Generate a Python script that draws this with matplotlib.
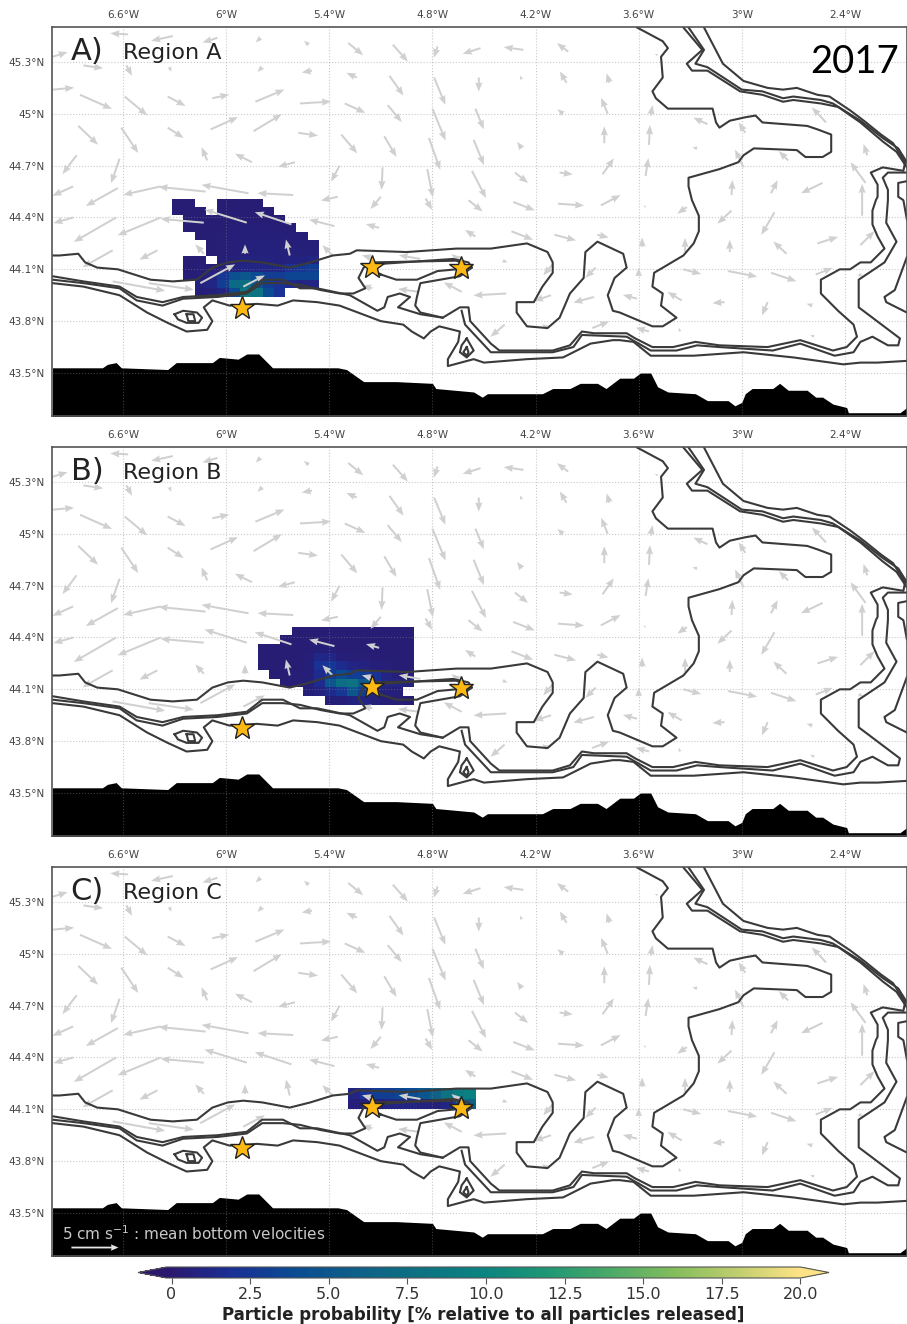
import numpy as np
import matplotlib
matplotlib.use('Agg')
import matplotlib.pyplot as plt
from matplotlib.colors import LinearSegmentedColormap

# Depth contours as (lon, lat)
line1 = [(-7.01,44.18),(-6.97,44.18),(-6.86,44.19),(-6.82,44.14),(-6.75,44.11),(-6.63,44.10),(-6.44,44.04),(-6.31,44.03),(-6.17,44.04),(-6.08,44.11),(-5.99,44.14),(-5.90,44.15),(-5.79,44.14),(-5.63,44.11),(-5.51,44.14),(-5.38,44.18),(-5.28,44.19),(-5.24,44.21),(-4.95,44.20),(-4.66,44.22),(-4.46,44.22),(-4.25,44.25),(-4.13,44.20),(-4.10,44.14),(-4.10,44.08),(-4.16,44.00),(-4.21,43.91),(-4.31,43.91),(-4.31,43.85),(-4.25,43.77),(-4.13,43.76),(-4.06,43.82),(-4.00,43.96),(-3.92,44.05),(-3.91,44.20),(-3.84,44.26),(-3.69,44.19),(-3.67,44.11),(-3.74,44.05),(-3.78,43.95),(-3.75,43.86),(-3.71,43.85),(-3.52,43.77),(-3.46,43.77),(-3.38,43.82),(-3.47,43.89),(-3.46,43.96),(-3.52,44.00),(-3.51,44.08),(-3.34,44.18),(-3.28,44.25),(-3.25,44.32),(-3.25,44.41),(-3.29,44.50),(-3.31,44.58),(-3.31,44.63),(-3.13,44.68),(-3.02,44.72),(-2.99,44.76),(-2.93,44.80),(-2.68,44.79),(-2.63,44.75),(-2.53,44.75),(-2.48,44.78),(-2.48,44.88),(-2.56,44.91),(-2.62,44.93),(-2.88,44.95),(-2.92,44.99),(-2.98,44.98),(-3.07,44.96),(-3.13,44.92),(-3.15,44.95),(-3.17,45.03),(-3.27,45.03),(-3.43,45.03),(-3.50,45.09),(-3.52,45.13),(-3.46,45.21),(-3.47,45.33),(-3.43,45.38),(-3.46,45.42),(-3.61,45.50)]
line2 = [(-7.01,44.06),(-6.83,44.03),(-6.62,44.00),(-6.52,43.94),(-6.37,43.91),(-6.25,43.94),(-6.05,43.95),(-5.88,43.97),(-5.79,44.04),(-5.67,44.04),(-5.57,43.99),(-5.47,43.99),(-5.28,43.95),(-5.12,43.86),(-5.08,43.88),(-5.06,43.94),(-4.99,43.96),(-4.93,43.94),(-5.00,43.88),(-4.87,43.84),(-4.74,43.82),(-4.64,43.88),(-4.59,43.88),(-4.58,43.80),(-4.46,43.67),(-4.41,43.63),(-4.10,43.63),(-4.00,43.66),(-3.93,43.74),(-3.86,43.73),(-3.67,43.73),(-3.62,43.70),(-3.52,43.65),(-3.40,43.65),(-3.27,43.68),(-3.13,43.66),(-2.85,43.65),(-2.66,43.69),(-2.47,43.63),(-2.39,43.65),(-2.33,43.71),(-2.35,43.78),(-2.44,43.86),(-2.54,43.96),(-2.54,44.04),(-2.43,44.10),(-2.37,44.10),(-2.31,44.14),(-2.25,44.14),(-2.17,44.22),(-2.21,44.29),(-2.24,44.36),(-2.24,44.44),(-2.22,44.50),(-2.21,44.52),(-2.21,44.59),(-2.25,44.66),(-2.18,44.69),(-2.06,44.67),(-2.05,44.72),(-2.12,44.83),(-2.19,44.88),(-2.29,44.96),(-2.37,45.02),(-2.49,45.10),(-2.56,45.11),(-2.68,45.15),(-2.76,45.14),(-2.85,45.15),(-2.99,45.19),(-3.11,45.29),(-3.22,45.50)]
line3 = [(-7.01,44.02),(-6.83,44.00),(-6.62,43.95),(-6.46,43.85),(-6.34,43.79),(-6.23,43.74),(-6.11,43.75),(-6.08,43.80),(-6.13,43.88),(-6.08,43.92),(-5.98,43.89),(-5.82,43.90),(-5.70,43.89),(-5.61,43.92),(-5.47,43.91),(-5.34,43.89),(-5.10,43.80),(-4.97,43.78),(-4.92,43.74),(-4.85,43.70),(-4.81,43.74),(-4.76,43.77),(-4.64,43.74),(-4.65,43.68),(-4.71,43.58),(-4.71,43.54),(-4.56,43.58),(-4.50,43.56),(-4.25,43.58),(-4.04,43.59),(-3.88,43.67),(-3.75,43.69),(-3.71,43.69),(-3.63,43.68),(-3.53,43.60),(-3.28,43.60),(-2.99,43.62),(-2.70,43.59),(-2.41,43.55),(-2.31,43.56),(-2.21,43.56),(-2.04,43.57)]
line4 = [(-7.01,44.04),(-6.83,44.02),(-6.62,43.99),(-6.52,43.92),(-6.37,43.89),(-6.25,43.93),(-6.05,43.94),(-5.88,43.96),(-5.79,44.02),(-5.67,44.02),(-5.57,44.01),(-5.45,43.98),(-5.34,43.96),(-5.26,43.96),(-5.19,43.99),(-5.23,44.05),(-5.20,44.11),(-5.15,44.14),(-4.66,44.15),(-4.57,44.11),(-4.64,44.06),(-4.87,44.02),(-4.89,43.94),(-4.90,43.89),(-4.87,43.85),(-4.74,43.82)]
line5 = [(-5.10,44.07),(-5.01,44.04),(-4.89,44.04),(-4.77,44.09),(-4.66,44.10),(-4.57,44.11),(-4.59,44.14),(-4.68,44.16),(-5.12,44.13),(-5.15,44.10),(-5.10,44.07)]
line6 = [(-4.63,43.86),(-4.61,43.78),(-4.46,43.62),(-4.10,43.62),(-3.98,43.65),(-3.93,43.72),(-3.67,43.71),(-3.53,43.63),(-3.38,43.63),(-3.26,43.66),(-3.13,43.65),(-2.82,43.63),(-2.66,43.67),(-2.46,43.60),(-2.35,43.62),(-2.31,43.68),(-2.24,43.71),(-2.15,43.66),(-2.09,43.66),(-2.08,43.70),(-2.32,43.88),(-2.32,44.04),(-2.17,44.14),(-2.10,44.26),(-2.16,44.37),(-2.15,44.50),(-2.15,44.56),(-2.18,44.63),(-2.15,44.66),(-2.04,44.66)]
line7 = [(-2.04,44.17),(-2.11,43.98),(-2.17,43.94),(-2.16,43.91),(-2.04,43.85)]
line8 = [(-2.04,44.61),(-2.09,44.60),(-2.09,44.52),(-2.06,44.50),(-2.04,44.39)]
line9 = [(-3.34,45.50),(-3.23,45.37),(-3.32,45.29),(-3.29,45.25),(-3.20,45.25),(-3.01,45.13),(-2.88,45.11),(-2.76,45.07),(-2.70,45.08),(-2.54,45.06),(-2.44,45.04),(-2.31,44.95),(-2.18,44.84),(-2.10,44.78),(-2.04,44.69)]
line10 = [(-3.31,45.50),(-3.22,45.37),(-3.27,45.29),(-3.20,45.27),(-3.00,45.14),(-2.88,45.13),(-2.76,45.09),(-2.70,45.10),(-2.54,45.08),(-2.47,45.06),(-2.31,44.96),(-2.18,44.86),(-2.09,44.80),(-2.04,44.72)]
mount1 = [(-6.30,43.84),(-6.25,43.86),(-6.17,43.85),(-6.14,43.82),(-6.16,43.79),(-6.23,43.79),(-6.28,43.81),(-6.30,43.84)]
mount1b = [(-6.23,43.84),(-6.19,43.84),(-6.18,43.80),(-6.22,43.80),(-6.23,43.84)]
mount2 = [(-4.60,43.70),(-4.56,43.63),(-4.60,43.59),(-4.64,43.62),(-4.63,43.66),(-4.60,43.70)]
mount2b = [(-4.60,43.65),(-4.59,43.62),(-4.60,43.60),(-4.62,43.62),(-4.60,43.65)]
contours = [line1, line2, line3, line4, line5, line6, line7, line8, line9, line10, mount1, mount1b, mount2, mount2b]

# Coastline
coast = [(-7.01,43.53),(-6.72,43.53),(-6.69,43.55),(-6.64,43.56),(-6.61,43.53),(-6.34,43.52),(-6.29,43.56),(-6.08,43.56),(-6.04,43.59),(-5.93,43.58),(-5.88,43.61),(-5.81,43.61),(-5.73,43.53),(-5.35,43.53),(-5.30,43.52),(-5.20,43.45),(-5.01,43.45),(-4.80,43.44),(-4.78,43.41),(-4.56,43.39),(-4.51,43.36),(-4.48,43.38),(-4.16,43.38),(-4.10,43.41),(-4.00,43.41),(-3.94,43.44),(-3.84,43.44),(-3.79,43.41),(-3.71,43.47),(-3.63,43.47),(-3.59,43.50),(-3.53,43.50),(-3.49,43.42),(-3.43,43.39),(-3.27,43.38),(-3.20,43.34),(-3.08,43.34),(-3.04,43.31),(-3.00,43.33),(-2.98,43.38),(-2.94,43.41),(-2.82,43.41),(-2.78,43.44),(-2.73,43.40),(-2.62,43.40),(-2.57,43.36),(-2.53,43.36),(-2.47,43.32),(-2.39,43.30),(-2.38,43.27),(-2.21,43.27),(-2.08,43.27),(-2.04,43.30)]

# Mean bottom velocities: lon, lat, u, v (cm/s)
arrows = [
    (-6.57,45.46,-1.9,.1),(-6.31,45.45,-2.3,-.5),(-6.05,45.44,-1.6,-.5),(-5.80,45.44,-.5,-.5),(-5.52,45.40,-.5,.4),(-5.29,45.41,1.6,-1.3),(-5.03,45.40,1.6,-1.8),(-4.77,45.39,-.4,-1.2),(-4.52,45.38,-1.9,-.6),(-4.27,45.37,-2.1,.3),(-4.01,45.36,-1.2,.9),(-3.49,45.34,-.3,.1),
    (-7.01,45.33,1.6,.5),(-6.83,45.28,2.1,-.3),(-6.58,45.28,.6,-1.1),(-6.33,45.27,.2,-.5),(-5.79,45.27,-.5,-.5),(-5.50,45.25,-1.1,-.2),(-5.24,45.21,-1.1,.5),(-5.05,45.22,1.5,-2.1),(-4.79,45.21,1.2,-2.9),(-4.53,45.21,0,-1.5),(-4.28,45.20,-.2,.4),(-4.02,45.18,-.7,1.2),(-3.77,45.18,-.3,1.0),
    (-7.01,45.14,2.3,.2),(-6.85,45.11,3.4,-1.5),(-6.59,45.10,2.4,-2.0),(-6.34,45.10,1.9,-1.0),(-6.08,45.09,1.8,.4),(-5.83,45.07,3.1,1.3),(-5.57,45.06,3.3,.2),(-5.31,45.06,2.2,-1.0),(-5.06,45.05,1.5,-1.8),(-4.80,45.03,1.4,-3.4),(-4.55,45.03,.9,-2.2),(-4.04,45.00,-.6,.5),(-3.78,45.00,-.7,1.7),(-3.53,44.99,.2,1.1),(-3.20,44.94,-1.5,.7),(-2.98,44.89,-.7,1.1),(-2.51,44.95,-1.5,1.6),
    (-6.86,44.93,2.1,-2.0),(-6.61,44.92,1.8,-2.7),(-6.34,44.92,1.7,-1.1),(-6.09,44.91,2.9,1.3),(-5.84,44.90,3.0,1.8),(-5.58,44.89,2.1,-.3),(-5.33,44.88,1.7,-2.0),(-5.08,44.87,1.3,-2.2),(-4.82,44.86,1.2,-3.4),(-4.56,44.85,1.1,-2.7),(-4.28,44.80,-.5,.7),(-3.80,44.83,0,1.8),(-3.54,44.82,.1,2.1),(-3.26,44.80,-.5,.1),
    (-6.87,44.76,-1.5,-2.0),(-6.62,44.74,-.9,-2.6),(-6.11,44.73,-.6,1.4),(-5.85,44.72,-1.8,.9),(-5.60,44.72,-1.8,-.5),(-5.34,44.70,-.9,-1.7),(-5.09,44.69,-.1,-2.4),(-4.83,44.68,.6,-3.0),(-4.57,44.67,1.5,-2.9),(-4.32,44.66,1.4,-1.1),(-4.06,44.66,1.4,-.2),(-3.81,44.65,1.2,1.7),(-3.56,44.64,.3,1.9),(-2.73,44.73,-1.0,1.0),(-2.99,44.69,-.9,1.9),(-2.27,44.76,-.4,1.2),(-2.28,44.60,-1.6,2.2),
    (-6.89,44.58,-2.2,-1.0),(-6.63,44.57,-3.4,-1.9),(-6.38,44.58,-4.0,-.9),(-6.12,44.55,-5.0,.5),(-5.87,44.54,-5.0,.9),(-5.61,44.53,-3.8,.2),(-5.35,44.52,-1.8,-.4),(-5.10,44.52,-1.1,-1.3),(-4.84,44.51,.7,-1.2),(-4.59,44.50,1.5,-1.2),(-4.33,44.49,2.3,-.9),(-4.07,44.48,2.8,-.2),(-3.82,44.47,2.1,1.1),(-3.56,44.46,-.2,.2),(-3.06,44.53,.1,1.6),(-2.83,44.54,.7,1.4),(-2.53,44.60,-2.3,-1.1),(-2.30,44.41,0,3.4),(-3.32,44.46,-1.0,-.7),
    (-6.89,44.40,-2.1,-.6),(-6.64,44.40,-4.5,-2.6),(-6.38,44.40,-4.6,-1.9),(-6.13,44.37,-4.6,.4),(-5.88,44.37,-4.5,1.4),(-5.62,44.36,-3.9,1.3),(-5.37,44.35,-2.7,.7),(-5.11,44.34,-1.4,.4),(-4.55,44.29,-1.1,.7),(-4.34,44.32,2.3,-.9),(-4.09,44.30,2.3,-.6),(-3.84,44.30,1.2,-.3),(-3.06,44.44,-1.5,-1.4),(-2.81,44.43,-1.4,-2.4),(-3.58,44.23,0,1.0),(-3.33,44.20,0,1.5),(-3.07,44.20,0,1.3),(-2.74,44.19,-1.4,1.3),(-2.56,44.25,2.2,.7),(-2.31,44.24,1.5,1.5),
    (-6.66,44.21,-3.2,-1.8),(-6.40,44.21,-1.9,-1.0),(-6.13,44.19,-.9,1.0),(-5.89,44.19,0,1.0),(-5.63,44.18,-.4,1.7),(-5.38,44.18,-1.1,1.1),(-5.15,44.165,-1.1,.3),(-4.87,44.16,-2.3,.4),(-4.64,44.15,-.9,.7),(-4.39,44.15,.5,-.2),(-4.10,44.13,-1.0,-1.2),(-3.85,44.11,-1.1,-1.1),(-3.60,44.06,0,.9),(-3.34,44.10,1.9,-.5),(-3.08,44.09,3.1,-.6),(-2.83,44.08,2.7,-.9),(-2.57,44.07,1.8,.7),(-2.32,44.07,.5,-.2),
    (-6.66,44.03,5.6,-1.0),(-6.45,44.02,4.8,-.7),(-6.15,44.02,3.7,2.0),(-5.90,44.00,2.3,1.2),(-5.15,43.99,-1.1,.3),(-4.88,43.97,-2.2,.3),(-4.63,43.97,-1.9,1.0),(-4.37,43.96,-3.5,-.2),(-4.11,43.95,-1.8,-.6),(-3.86,43.94,-2.2,-.6),(-3.61,43.93,-1.5,.4),(-3.35,43.92,-1.5,.9),(-3.10,43.91,-1.3,-.1),(-2.85,43.91,-.6,-1.4),(-2.59,43.89,-.6,.2),
    (-4.38,43.78,-1.5,-1.3),(-4.13,43.76,-.6,.4),(-3.87,43.76,1.8,.7),(-3.54,43.74,-1.4,.4),(-3.36,43.74,-.1,.4),(-2.58,43.71,-.4,.2),
]

star_lon = [-5.907, -5.151, -4.633]
star_lat = [43.876, 44.114, 44.108]

n = np.nan
# Particle probability, top row first
prob_a = [
    [.3,.3,n,n,.3,.3,.3,.3,n,n,n,n,n],
    [.3,.3,.3,n,.3,.3,.3,.3,.3,n,n,n,n],
    [n,.3,.3,.3,.3,.3,.3,.3,.3,.3,n,n,n],
    [n,.3,.3,.3,.3,.4,.5,.5,.4,.4,.4,n,n],
    [n,n,.3,.3,.4,.5,.5,.5,.5,.5,.5,.4,n],
    [n,n,n,.3,.4,.5,.6,.7,.7,.6,.5,.5,.5],
    [n,n,n,.3,.4,.5,.6,.7,.7,.7,.6,.6,.6],
    [n,.3,.3,n,.5,.6,.8,.8,.8,.7,.8,.8,1.0],
    [n,.3,.4,.5,.6,.8,1,1,1,1.2,2,2.5,3],
    [n,.4,.5,.8,2.5,4.5,5,4,3,3,3.5,3.5,3.5],
    [n,n,.8,1,3,7,7.5,4.5,3,2,1.5,1,1],
    [n,n,.5,.6,1,4,8.5,8,4,2,n,n,n],
]
prob_b = [
    [n,n,n,.3,.3,.3,.3,.3,.3,.3,.3,.3,.3,.3],
    [n,n,.3,.3,.3,.3,.3,.3,.3,.3,.3,.3,.3,.3],
    [.3,.3,.3,.3,.3,.5,.5,.3,.3,.3,.3,.3,.3,.3],
    [.3,.3,.3,.3,.4,1.2,1,.5,.4,.4,.3,.3,.3,.3],
    [.3,.3,.3,.3,.5,2,2.5,1.5,1,.8,.5,.4,.3,.3],
    [n,.3,.3,.4,.5,1.5,3,4,3,3,2,1,.5,.4],
    [n,n,.4,.4,.6,1.5,5,7.5,8,5.5,2,1,1,.8],
    [n,n,n,n,.5,.8,1.5,2.5,5,3,1,.6,.5,n],
    [n,n,n,n,n,n,.5,.5,.8,1,.6,.4,.4,.3],
]
prob_c = [
    [1,2,3,3,3.5,4,5,6,8,9,9.5],
    [.5,.5,.5,1,1,1,.8,.6,1,3,6],
]
# lon0, lon1, lat_top, lat_bottom of each released patch
extent_a = (-6.315, -5.459, 44.507, 43.942)
extent_b = (-5.814, -4.906, 44.463, 44.01)
extent_c = (-5.289, -4.547, 44.222, 44.10)

lon_ticks = [-6.6, -6, -5.4, -4.8, -4.2, -3.6, -3, -2.4]
lon_labels = ['6.6°W', '6°W', '5.4°W', '4.8°W', '4.2°W', '3.6°W', '3°W', '2.4°W']
lat_ticks = [43.5, 43.8, 44.1, 44.4, 44.7, 45, 45.3]
lat_labels = ['43.5°N', '43.8°N', '44.1°N', '44.4°N', '44.7°N', '45°N', '45.3°N']
cbar_ticks = [0, 2.5, 5, 7.5, 10, 12.5, 15, 17.5, 20]
cbar_labels = ['0', '2.5', '5.0', '7.5', '10.0', '12.5', '15.0', '17.5', '20.0']

panel_letters = ['A)', 'B)', 'C)']
panel_names = ['Region A', 'Region B', 'Region C']
panel_tops = [27, 447, 867]

haline = LinearSegmentedColormap.from_list('haline', ['#2a186c', '#1b2f95', '#0a4a92', '#0e6088', '#0d7282', '#0a8480',
                                                       '#1f9775', '#4aa968', '#82bd5c', '#bfcd6e', '#fde385'])
W, H = 907, 1324
fig = plt.figure(figsize=(W / 100, H / 100), dpi=100)

qlon, qlat, qu, qv = zip(*arrows)
mesh = None
for i, (prob, ext) in enumerate(zip([prob_a, prob_b, prob_c], [extent_a, extent_b, extent_c])):
    ax = fig.add_axes([52 / W, 1 - (panel_tops[i] + 389) / H, 855 / W, 389 / H])
    prob = np.array(prob)
    lon_e = np.linspace(ext[0], ext[1], prob.shape[1] + 1)
    lat_e = np.linspace(ext[2], ext[3], prob.shape[0] + 1)
    mesh = ax.pcolormesh(lon_e, lat_e, np.ma.masked_invalid(prob), cmap=haline, vmin=-0.16, vmax=20, zorder=2)
    ax.quiver(qlon, qlat, qu, qv, color='#d0d0d0', angles='uv', scale_units='inches', scale=10.64, units='inches',
              width=0.02, headwidth=3.6, headlength=4.6, headaxislength=4.2, minlength=0.2, zorder=3)
    for c in contours:
        xs, ys = zip(*c)
        ax.plot(xs, ys, color='#3a3a3a', lw=1.5, solid_joinstyle='round', zorder=4)
    xs, ys = zip(*coast)
    ax.fill_between(xs, ys, 43.2, color='black', lw=0, zorder=1)
    ax.plot(star_lon, star_lat, ls='none', marker='*', ms=18, mfc='#fdb913', mec='#222222', mew=1, zorder=5)

    ax.set_xlim(-7.013, -2.039)
    ax.set_ylim(43.251, 45.5025)
    ax.set_xticks(lon_ticks)
    ax.set_xticklabels(lon_labels)
    ax.set_yticks(lat_ticks)
    ax.set_yticklabels(lat_labels)
    ax.xaxis.tick_top()
    ax.tick_params(length=0, labelsize=7.5, labelcolor='#444444', pad=5)
    ax.grid(True, ls=':', lw=0.8, color='#888888', alpha=0.45)
    ax.set_axisbelow(False)
    for gl in ax.get_xgridlines() + ax.get_ygridlines():
        gl.set_zorder(1.5)
    for s in ax.spines.values():
        s.set_color('#555555')
        s.set_linewidth(1.2)
        s.set_zorder(6)
    ax.text(-6.905, 45.36, panel_letters[i], fontsize=22, va='center', color='#222222', zorder=7)
    ax.text(-6.60, 45.352, panel_names[i], fontsize=16, va='center', color='#222222', zorder=7)

    if i == 2:
        ax.text(-6.955, 43.38, '5 cm s$^{-1}$ : mean bottom velocities', fontsize=11, color='#c8c8c8', va='center', zorder=7)
        ax.quiver([-6.9], [43.30], [5], [0], color='#e6e6e6', angles='uv', scale_units='inches', scale=10.64,
                  units='inches', width=0.018, headwidth=3.6, headlength=4.2, headaxislength=3.8, zorder=7)

fig.text(855 / W, 1 - 62 / H, '2017', family='Lato', fontsize=27.5, ha='center', va='center', color='black')

cax = fig.add_axes([138 / W, 1 - 1278 / H, 691 / W, 11 / H])
cb = fig.colorbar(mesh, cax=cax, orientation='horizontal', extend='both', extendfrac=0.045)
cb.set_ticks(cbar_ticks)
cb.set_ticklabels(cbar_labels)
cb.ax.tick_params(labelsize=11.5, labelcolor='#333333', length=4, width=0.8, color='#555555', pad=2.5)
cb.outline.set_edgecolor('#555555')
cb.set_label('Particle probability [% relative to all particles released]', fontsize=12, fontweight='bold', color='#222222', labelpad=2.5)

fig.savefig('out.png', dpi=100)
